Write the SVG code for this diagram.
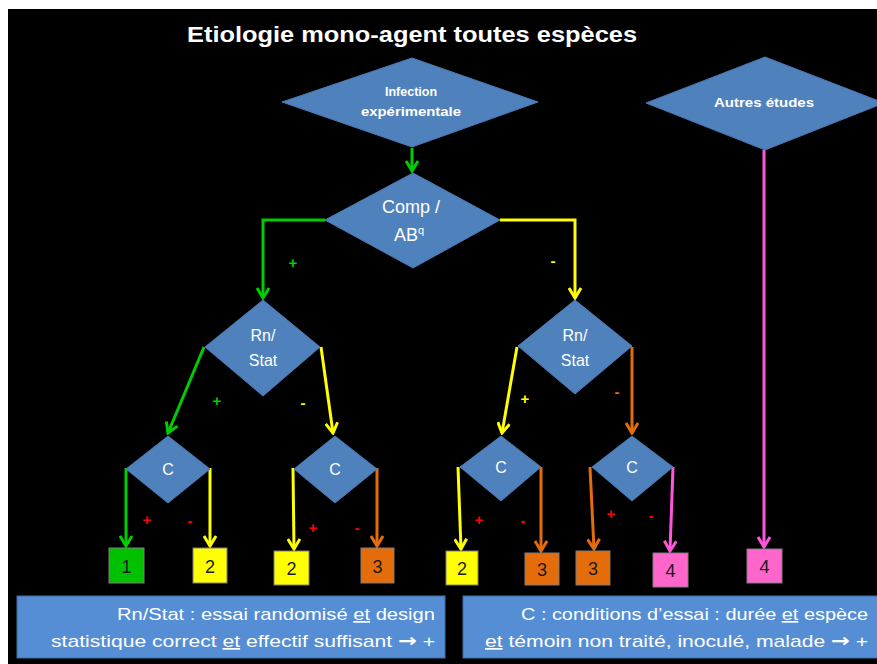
<svg xmlns="http://www.w3.org/2000/svg" width="877" height="664" viewBox="0 0 877 664">
<style>
.dia{fill:#4f81bd;stroke:#4a7ab5;stroke-width:1}
.dt{fill:#ffffff;font-family:"Liberation Sans",Arial,sans-serif;text-anchor:middle}
.sb{font-weight:bold}
.box{stroke:#7f7f7f;stroke-width:1}
.num{fill:#1a1a1a;font-family:"Liberation Sans",Arial,sans-serif;font-size:18px;text-anchor:middle}
.sg{font-family:"Liberation Sans",Arial,sans-serif;font-size:15px;font-weight:bold;text-anchor:middle}
.c{fill:none;stroke-width:3}
.leg{fill:#ffffff;font-family:"Liberation Sans",Arial,sans-serif;font-size:17px;text-anchor:end}
.u{text-decoration:underline}
.ar{font-family:"DejaVu Sans",sans-serif;font-weight:bold;font-size:18px}
</style>
<defs>
<marker id="mG" markerUnits="userSpaceOnUse" markerWidth="14" markerHeight="14" viewBox="0 0 14 14" refX="12" refY="7" orient="auto"><path d="M2,1 L12,7 L2,13" fill="none" stroke="#00cc00" stroke-width="3"/></marker>
<marker id="mY" markerUnits="userSpaceOnUse" markerWidth="14" markerHeight="14" viewBox="0 0 14 14" refX="12" refY="7" orient="auto"><path d="M2,1 L12,7 L2,13" fill="none" stroke="#ffff00" stroke-width="3"/></marker>
<marker id="mO" markerUnits="userSpaceOnUse" markerWidth="14" markerHeight="14" viewBox="0 0 14 14" refX="12" refY="7" orient="auto"><path d="M2,1 L12,7 L2,13" fill="none" stroke="#e46c0a" stroke-width="3"/></marker>
<marker id="mP" markerUnits="userSpaceOnUse" markerWidth="14" markerHeight="14" viewBox="0 0 14 14" refX="12" refY="7" orient="auto"><path d="M2,1 L12,7 L2,13" fill="none" stroke="#ff55dd" stroke-width="3"/></marker>
</defs>
<rect x="0" y="0" width="877" height="664" fill="#ffffff"/>
<rect x="8" y="9" width="869" height="655" fill="#000000"/>
<text x="412" y="42" fill="#ffffff" font-family="'Liberation Sans',Arial,sans-serif" font-size="22" font-weight="bold" text-anchor="middle" textLength="450" lengthAdjust="spacingAndGlyphs">Etiologie mono-agent toutes espèces</text>

<g id="connectors">
<line class="c" x1="412" y1="148" x2="412" y2="171" stroke="#00cc00" marker-end="url(#mG)"/>
<polyline class="c" points="325,220 263,220 263,298" stroke="#00cc00" marker-end="url(#mG)"/>
<polyline class="c" points="500,220 575,220 575,298" stroke="#ffff00" marker-end="url(#mY)"/>
<line class="c" x1="204" y1="347" x2="168" y2="433" stroke="#00cc00" marker-end="url(#mG)"/>
<line class="c" x1="321" y1="347" x2="333" y2="433" stroke="#ffff00" marker-end="url(#mY)"/>
<line class="c" x1="517" y1="347" x2="502" y2="433" stroke="#ffff00" marker-end="url(#mY)"/>
<line class="c" x1="632" y1="347" x2="632" y2="433" stroke="#e46c0a" marker-end="url(#mO)"/>
<line class="c" x1="126" y1="468" x2="126" y2="546" stroke="#00cc00" marker-end="url(#mG)"/>
<line class="c" x1="210" y1="468" x2="210" y2="546" stroke="#ffff00" marker-end="url(#mY)"/>
<line class="c" x1="293" y1="468" x2="294" y2="549" stroke="#ffff00" marker-end="url(#mY)"/>
<line class="c" x1="377" y1="468" x2="377" y2="546" stroke="#e46c0a" marker-end="url(#mO)"/>
<line class="c" x1="458" y1="467" x2="461" y2="549" stroke="#ffff00" marker-end="url(#mY)"/>
<line class="c" x1="541" y1="467" x2="541" y2="551" stroke="#e46c0a" marker-end="url(#mO)"/>
<line class="c" x1="590" y1="467" x2="594" y2="549" stroke="#e46c0a" marker-end="url(#mO)"/>
<line class="c" x1="673" y1="467" x2="670" y2="551" stroke="#ff55dd" marker-end="url(#mP)"/>
<line class="c" x1="764" y1="150" x2="764" y2="547" stroke="#ff55dd" marker-end="url(#mP)"/>
</g>

<g id="labels">
<text class="sg" x="293" y="268" fill="#00cc00">+</text>
<text class="sg" x="553" y="266" fill="#ffff00">-</text>
<text class="sg" x="217" y="406" fill="#00cc00">+</text>
<text class="sg" x="303" y="408" fill="#ffff00">-</text>
<text class="sg" x="525" y="404" fill="#ffff00">+</text>
<text class="sg" x="617" y="397" fill="#e46c0a">-</text>
<text class="sg" x="147" y="525" fill="#ff0000">+</text>
<text class="sg" x="190" y="526" fill="#ff0000">-</text>
<text class="sg" x="313" y="533" fill="#ff0000">+</text>
<text class="sg" x="357" y="533" fill="#ff0000">-</text>
<text class="sg" x="479" y="525" fill="#ff0000">+</text>
<text class="sg" x="523" y="526" fill="#ff0000">-</text>
<text class="sg" x="611" y="519" fill="#ff0000">+</text>
<text class="sg" x="651" y="521" fill="#ff0000">-</text>
</g>

<g id="infection"><polygon class="dia" points="412,58 538,102 412,147 282,102"/>
<text class="dt sb" x="411" y="96" font-size="12.5">Infection</text>
<text class="dt sb" x="411" y="116" font-size="12.5" textLength="100" lengthAdjust="spacingAndGlyphs">expérimentale</text></g>
<g id="autres"><polygon class="dia" points="765,57 884,103 765,150 646,103"/>
<text class="dt sb" x="764" y="107" font-size="12.5" textLength="100" lengthAdjust="spacingAndGlyphs">Autres études</text></g>
<g id="comp"><polygon class="dia" points="413,173 500,220 413,268 325,220"/>
<text class="dt" x="411" y="213" font-size="18">Comp /</text>
<text class="dt" x="409" y="241" font-size="18">AB<tspan font-size="11" dy="-7">q</tspan></text></g>
<g id="rnL"><polygon class="dia" points="263,300 320,347 263,396 205,347"/>
<text class="dt" x="263" y="341" font-size="16">Rn/</text>
<text class="dt" x="263" y="366" font-size="16">Stat</text></g>
<g id="rnR"><polygon class="dia" points="575,300 632,346 575,394 518,346"/>
<text class="dt" x="575" y="341" font-size="16">Rn/</text>
<text class="dt" x="575" y="366" font-size="16">Stat</text></g>
<g id="c1"><polygon class="dia" points="168,436 210,469 168,503 126,469"/><text class="dt" x="168" y="475" font-size="16">C</text></g>
<g id="c2"><polygon class="dia" points="335,436 377,469 335,503 294,469"/><text class="dt" x="335" y="475" font-size="16">C</text></g>
<g id="c3"><polygon class="dia" points="501,436 541,467 501,501 460,467"/><text class="dt" x="501" y="473" font-size="16">C</text></g>
<g id="c4"><polygon class="dia" points="632,436 673,467 632,501 592,467"/><text class="dt" x="632" y="473" font-size="16">C</text></g>

<g id="b1"><rect class="box" x="109" y="548" width="35" height="35" fill="#00c000"/><text class="num" x="126.5" y="573">1</text></g>
<g id="b2"><rect class="box" x="193" y="548" width="34" height="35" fill="#ffff00"/><text class="num" x="210" y="573">2</text></g>
<g id="b3"><rect class="box" x="274" y="551" width="35" height="34" fill="#ffff00"/><text class="num" x="291.5" y="575">2</text></g>
<g id="b4"><rect class="box" x="361" y="548" width="33" height="35" fill="#e46c0a"/><text class="num" x="377.5" y="573">3</text></g>
<g id="b5"><rect class="box" x="446" y="551" width="32" height="34" fill="#ffff00"/><text class="num" x="462" y="575">2</text></g>
<g id="b6"><rect class="box" x="525" y="553" width="34" height="32" fill="#e46c0a"/><text class="num" x="542" y="576">3</text></g>
<g id="b7"><rect class="box" x="576" y="551" width="34" height="34" fill="#e46c0a"/><text class="num" x="593" y="575">3</text></g>
<g id="b8"><rect class="box" x="653" y="553" width="35" height="34" fill="#ff66cc"/><text class="num" x="670.5" y="577">4</text></g>
<g id="b9"><rect class="box" x="747" y="549" width="35" height="34" fill="#ff66cc"/><text class="num" x="764.5" y="573">4</text></g>

<g id="legendL"><rect x="17" y="596" width="428" height="62" fill="#558ed5" stroke="#3f6fa8" stroke-width="1"/>
<text class="leg" x="435" y="620" textLength="318" lengthAdjust="spacingAndGlyphs">Rn/Stat : essai randomisé <tspan class="u">et</tspan> design</text>
<text class="leg" x="435" y="647" textLength="384" lengthAdjust="spacingAndGlyphs">statistique correct <tspan class="u">et</tspan> effectif suffisant <tspan class="ar">→</tspan> +</text></g>
<g id="legendR"><rect x="463" y="596" width="420" height="62" fill="#558ed5" stroke="#3f6fa8" stroke-width="1"/>
<text class="leg" x="868" y="620" textLength="347" lengthAdjust="spacingAndGlyphs">C : conditions  d’essai : durée <tspan class="u">et</tspan> espèce</text>
<text class="leg" x="868" y="647" textLength="383" lengthAdjust="spacingAndGlyphs"><tspan class="u">et</tspan> témoin non traité, inoculé, malade <tspan class="ar">→</tspan> +</text></g>
</svg>
